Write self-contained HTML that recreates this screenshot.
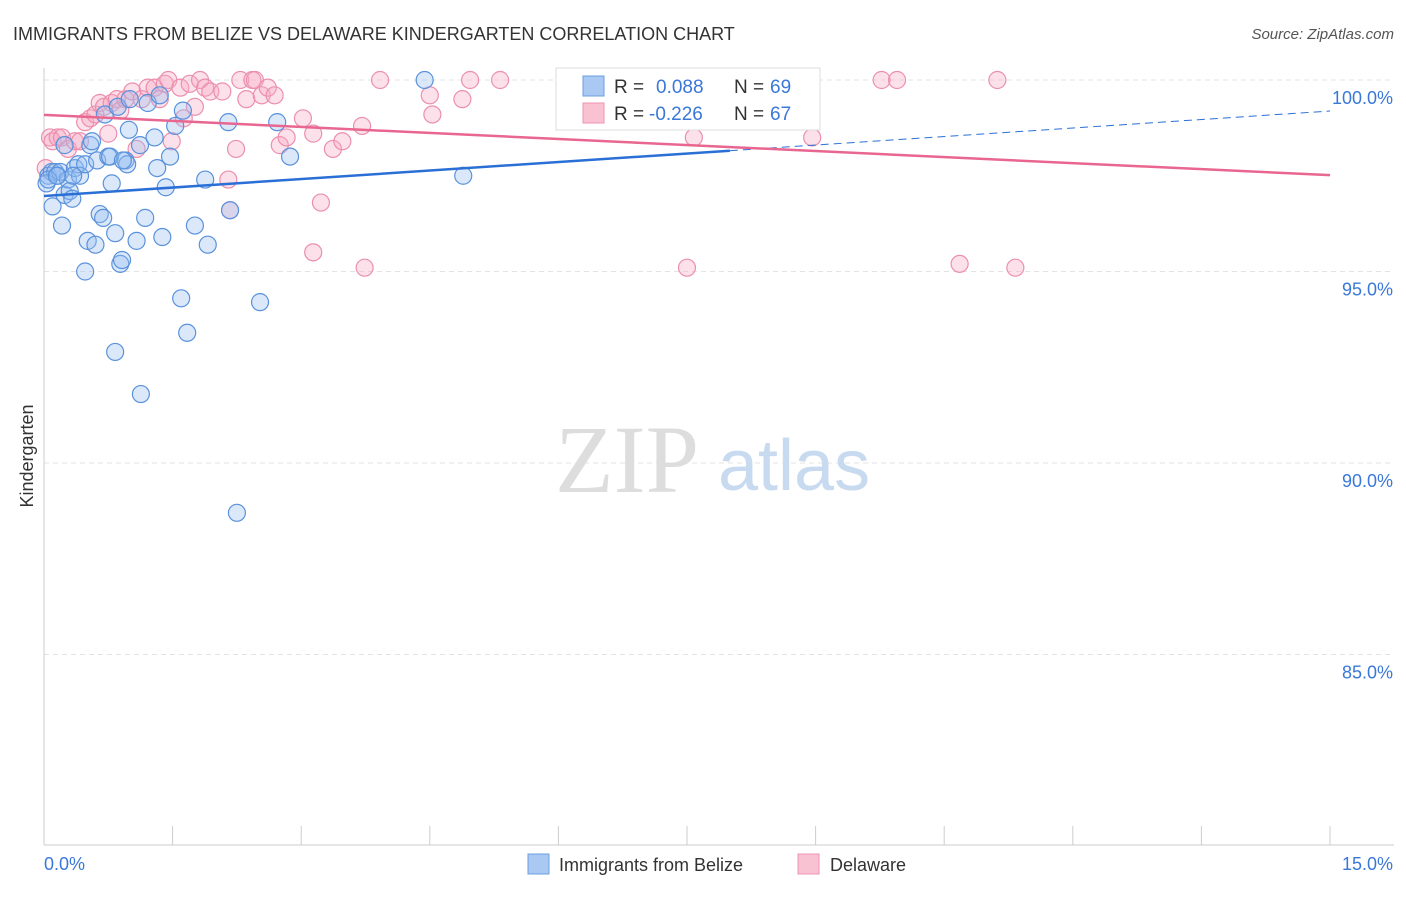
<!DOCTYPE html>
<html><head><meta charset="utf-8"><style>
body{margin:0;background:#fff;font-family:"Liberation Sans",sans-serif}
</style></head><body>
<svg id="chart" width="1406" height="892" xmlns="http://www.w3.org/2000/svg" font-family="Liberation Sans, sans-serif">
<text x="13" y="40" font-size="18" fill="#333">IMMIGRANTS FROM BELIZE VS DELAWARE KINDERGARTEN CORRELATION CHART</text>
<text x="1394" y="39" font-size="15" fill="#555" font-style="italic" text-anchor="end">Source: ZipAtlas.com</text>
<g id="grid"></g>
<text x="555" y="492" font-size="96" fill="#ddd" font-family="Liberation Serif, serif">ZIP</text>
<text x="718" y="490" font-size="72" fill="#c8daf0">atlas</text>
<line x1="44" y1="68" x2="44" y2="845" stroke="#ccc"/>
<line x1="44" y1="845" x2="1394" y2="845" stroke="#ccc"/>
<text transform="translate(33,456) rotate(-90)" font-size="18" fill="#333" text-anchor="middle">Kindergarten</text>
<text x="44" y="870" font-size="18" fill="#3a78d8">0.0%</text>
<text x="1393" y="870" font-size="18" fill="#3a78d8" text-anchor="end">15.0%</text>
<g id="pts"></g>
<g id="lines"></g>
<g>
<rect x="556" y="68" width="264" height="62" fill="#fff" stroke="#ddd"/>
<rect x="583" y="76" width="21" height="20" fill="#a9c8f2" stroke="#6a9fe0"/>
<rect x="583" y="103" width="21" height="20" fill="#f9c2d2" stroke="#ee94b0"/>
<text x="614" y="93" font-size="19" fill="#333">R =</text><text x="656" y="93" font-size="19" fill="#3a78d8">0.088</text>
<text x="734" y="93" font-size="19" fill="#333">N =</text><text x="770" y="93" font-size="19" fill="#3a78d8">69</text>
<text x="614" y="120" font-size="19" fill="#333">R =</text><text x="649" y="120" font-size="19" fill="#3a78d8">-0.226</text>
<text x="734" y="120" font-size="19" fill="#333">N =</text><text x="770" y="120" font-size="19" fill="#3a78d8">67</text>
</g>
<g>
<rect x="528" y="854" width="21" height="20" fill="#a9c8f2" stroke="#6a9fe0"/>
<text x="559" y="871" font-size="18" fill="#333">Immigrants from Belize</text>
<rect x="798" y="854" width="21" height="20" fill="#f9c2d2" stroke="#ee94b0"/>
<text x="830" y="871" font-size="18" fill="#333">Delaware</text>
</g>
</svg>
<script>
const yTicks=[100,95,90,85];
const xTicks=[0,1.5,3,4.5,6,7.5,9,10.5,12,13.5,15];
const blueX=[0.05,0.09,0.13,0.16,0.19,0.03,0.1,0.21,0.24,0.28,0.3,0.33,0.36,0.4,0.42,0.48,0.51,0.54,0.6,0.62,0.65,0.69,0.71,0.75,0.77,0.79,0.83,0.86,0.89,0.91,0.95,0.97,0.99,1.0,1.08,1.12,1.18,1.21,1.29,1.32,1.35,1.38,1.42,1.47,1.53,1.6,1.62,1.67,1.76,1.88,1.91,2.15,2.17,2.25,2.52,2.72,2.87,0.83,1.13,0.48,4.89,4.44,6.49,0.24,0.56,0.34,0.05,0.15,0.92];
const blueY=[97.5,97.6,97.6,97.5,97.6,97.3,96.7,96.2,97.0,97.4,97.1,96.9,97.7,97.8,97.5,97.8,95.8,98.3,95.7,97.9,96.5,96.4,99.1,98.0,98.0,97.3,96.0,99.3,95.2,95.3,97.9,97.8,98.7,99.5,95.8,98.3,96.4,99.4,98.5,97.7,99.6,95.9,97.2,98.0,98.8,94.3,99.2,93.4,96.2,97.4,95.7,98.9,96.6,88.7,94.2,98.9,98.0,92.9,91.8,95.0,97.5,100.0,99.7,98.3,98.4,97.5,97.4,97.5,97.9];
const pinkX=[0.02,0.07,0.1,0.16,0.21,0.28,0.36,0.42,0.48,0.54,0.6,0.65,0.7,0.75,0.79,0.85,0.89,0.95,1.03,1.08,1.14,1.21,1.29,1.35,1.41,1.45,1.49,1.59,1.63,1.70,1.76,1.82,1.88,1.94,2.08,2.15,2.17,2.24,2.29,2.36,2.43,2.46,2.54,2.61,2.69,2.75,2.83,3.02,3.14,3.14,3.23,3.37,3.48,3.71,3.74,3.92,4.5,4.53,4.88,4.97,5.32,7.58,7.5,8.96,9.77,9.95,10.68,11.12,11.33];
const pinkY=[97.7,98.5,98.4,98.5,98.5,98.2,98.4,98.4,98.9,99.0,99.1,99.4,99.3,98.6,99.4,99.5,99.2,99.5,99.7,98.2,99.5,99.8,99.8,99.5,99.9,100.0,98.4,99.8,99.0,99.9,99.3,100.0,99.8,99.7,99.7,97.4,96.6,98.2,100.0,99.5,100.0,100.0,99.6,99.8,99.6,98.3,98.5,99.0,98.6,95.5,96.8,98.2,98.4,98.8,95.1,100.0,99.6,99.1,99.5,100.0,100.0,98.5,95.1,98.5,100.0,100.0,95.2,100.0,95.1];
const blueTrend=[96.97,0.148];
const pinkTrend=[99.09,-0.105];
const NS='http://www.w3.org/2000/svg';
function sx(v){return 44+v/15*1286;}
function sy(v){return 80+(100-v)*38.3;}
function mk(t,a,p){const e=document.createElementNS(NS,t);for(const k in a)e.setAttribute(k,a[k]);p.appendChild(e);return e;}
const grid=document.getElementById('grid');
yTicks.forEach(t=>{
 const l=mk('line',{x1:44,x2:1394,y1:sy(t),y2:sy(t),stroke:'#e3e3e3','stroke-dasharray':'5,4'},grid);
 
 
 const tx=mk('text',{x:1393,y:sy(t)+24,'font-size':18,fill:'#3a78d8','text-anchor':'end'},grid);
 tx.textContent=t.toFixed(1)+'%';
 
 
});
xTicks.forEach(t=>{
 const l=mk('line',{x1:sx(t),x2:sx(t),y1:826,y2:845,stroke:'#ccc'},grid);
 
 
});
const pts=document.getElementById('pts');
pinkX.forEach((x,i)=>{
 const c=mk('circle',{cx:sx(x),cy:sy(pinkY[i]),r:8.5,fill:'rgba(246,170,195,0.35)',stroke:'#ec8fae','stroke-width':1.2},pts);
 
 
});
blueX.forEach((x,i)=>{
 const c=mk('circle',{cx:sx(x),cy:sy(blueY[i]),r:8.5,fill:'rgba(150,190,240,0.35)',stroke:'#5a92dc','stroke-width':1.2},pts);
 
 
});
const lines=document.getElementById('lines');
const [ba,bb]=blueTrend,[pa,pb]=pinkTrend;
let l1=mk('line',{x1:sx(0),y1:sy(ba),x2:sx(8),y2:sy(ba+bb*8),stroke:'#2a6fd6','stroke-width':2.5},lines);


let l2=mk('line',{x1:sx(8),y1:sy(ba+bb*8),x2:sx(15),y2:sy(ba+bb*15),stroke:'#2a6fd6','stroke-width':1,'stroke-dasharray':'8,5'},lines);


let l3=mk('line',{x1:sx(0),y1:sy(pa),x2:sx(15),y2:sy(pa+pb*15),stroke:'#e8668f','stroke-width':2.5},lines);


</script>
</body></html>
